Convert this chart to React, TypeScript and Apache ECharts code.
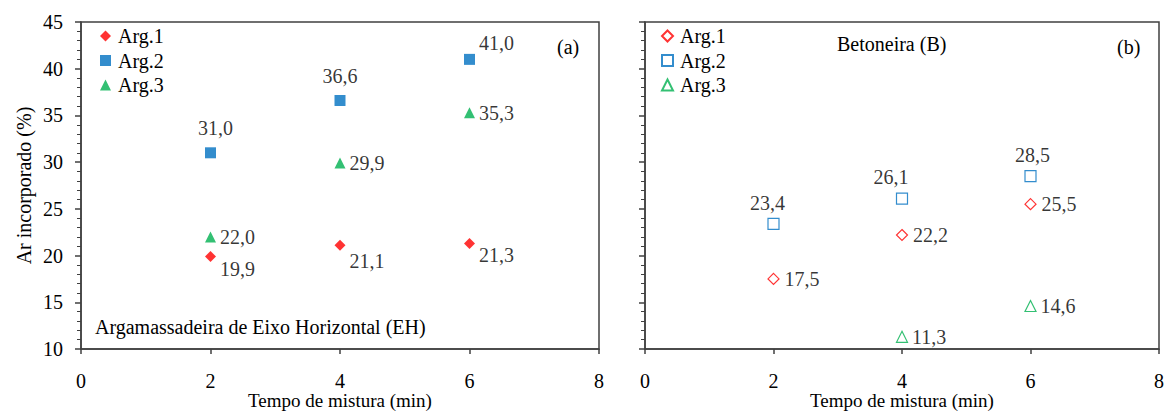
import React, { useEffect, useRef } from "react";
import * as echarts from "echarts";

// ---- data ----
const mixTimes = [2, 4, 6];
const ehArg1 = [19.9, 21.1, 21.3];
const ehArg2 = [31.0, 36.6, 41.0];
const ehArg3 = [22.0, 29.9, 35.3];
const bArg1 = [17.5, 22.2, 25.5];
const bArg2 = [23.4, 26.1, 28.5];
const bArg3: (number | null)[] = [null, 11.3, 14.6];
const mortarNames = ["Arg.1", "Arg.2", "Arg.3"];
const xAxisTitle = "Tempo de mistura (min)";
const yAxisTitle = "Ar incorporado (%)";
const panelATitle = "Argamassadeira de Eixo Horizontal (EH)";
const panelBTitle = "Betoneira (B)";

const FONT = "serif";
const AXIS_COLOR = "#404040";
const RED = "#FF0000";
const BLUE = "#0070C0";
const GREEN = "#00B050";

const fmt = (v: number) => v.toFixed(1).replace(".", ",");

function pts(vals: (number | null)[], labelFor: (i: number) => any) {
  const out: any[] = [];
  vals.forEach((v, i) => {
    if (v === null) return;
    out.push({ value: [mixTimes[i], v], label: labelFor(i) });
  });
  return out;
}

export default function App() {
  const ref = useRef<HTMLDivElement>(null);
  useEffect(() => {
    if (!ref.current) return;
    const chart = echarts.init(ref.current, null, { renderer: "svg" });

    const textStyle = { color: "#000", fontFamily: FONT, fontSize: 20 };
    const baseLabel = {
      show: true,
      color: "#000",
      fontFamily: FONT,
      fontSize: 20,
      formatter: (p: any) => fmt(p.value[1]),
    };

    const xAxisCommon = {
      type: "value",
      min: 0,
      max: 8,
      interval: 2,
      name: xAxisTitle,
      nameLocation: "middle",
      nameGap: 42,
      nameMoveOverlap: false,
      nameTextStyle: { ...textStyle, fontSize: 19 },
      axisLine: { show: true, lineStyle: { color: AXIS_COLOR, width: 1.5 } },
      axisTick: { show: true, length: 5, lineStyle: { color: AXIS_COLOR, width: 1.5 } },
      axisLabel: { margin: 22, ...textStyle },
      splitLine: { show: false },
    };
    const yAxisCommon = {
      type: "value",
      min: 10,
      max: 45,
      interval: 5,
      axisLine: { show: true, lineStyle: { color: AXIS_COLOR, width: 1.5 } },
      axisTick: { show: true, length: 6, lineStyle: { color: AXIS_COLOR, width: 1.5 } },
      minorTick: { show: true, splitNumber: 5, length: 4, lineStyle: { color: AXIS_COLOR, width: 1 } },
      splitLine: { show: false },
      minorSplitLine: { show: false },
    };

    const symbols = ["diamond", "rect", "triangle"];

    const series: any[] = [
      {
        name: mortarNames[0],
        type: "scatter",
        xAxisIndex: 0,
        yAxisIndex: 0,
        symbol: symbols[0],
        symbolSize: 11,
        itemStyle: { color: RED },
        data: pts(ehArg1, (i) => ({
          ...baseLabel,
          position: "right",
          distance: 4,
          offset: [0, i === 1 ? 16 : 12],
        })),
      },
      {
        name: mortarNames[1],
        type: "scatter",
        xAxisIndex: 0,
        yAxisIndex: 0,
        symbol: symbols[1],
        symbolSize: 11,
        itemStyle: { color: BLUE },
        data: pts(ehArg2, (i) =>
          i === 2
            ? { ...baseLabel, position: "right", distance: 4, offset: [0, -16] }
            : { ...baseLabel, position: "top", distance: 9, offset: [i === 0 ? 5 : 0, 0] }
        ),
      },
      {
        name: mortarNames[2],
        type: "scatter",
        xAxisIndex: 0,
        yAxisIndex: 0,
        symbol: symbols[2],
        symbolSize: 11,
        itemStyle: { color: GREEN },
        data: pts(ehArg3, () => ({ ...baseLabel, position: "right", distance: 4 })),
      },
      {
        name: mortarNames[0] + " B",
        type: "scatter",
        xAxisIndex: 1,
        yAxisIndex: 1,
        symbol: symbols[0],
        symbolSize: 11,
        itemStyle: { color: "#fff", borderColor: RED, borderWidth: 1.2 },
        data: pts(bArg1, () => ({ ...baseLabel, position: "right", distance: 5 })),
      },
      {
        name: mortarNames[1] + " B",
        type: "scatter",
        xAxisIndex: 1,
        yAxisIndex: 1,
        symbol: symbols[1],
        symbolSize: 11,
        itemStyle: { color: "#fff", borderColor: BLUE, borderWidth: 1.2 },
        data: pts(bArg2, (i) => ({
          ...baseLabel,
          position: "top",
          distance: 5,
          offset: [[-6, -11, 2][i], 0],
        })),
      },
      {
        name: mortarNames[2] + " B",
        type: "scatter",
        xAxisIndex: 1,
        yAxisIndex: 1,
        symbol: symbols[2],
        symbolSize: 11,
        itemStyle: { color: "#fff", borderColor: GREEN, borderWidth: 1.2 },
        data: pts(bArg3, () => ({ ...baseLabel, position: "right", distance: 4 })),
      },
    ];

    const legendCommon = {
      orient: "vertical",
      top: 21,
      itemWidth: 11,
      itemHeight: 11,
      itemGap: 4.5,
      selectedMode: false,
      textStyle: { ...textStyle, padding: [0, 0, 0, 2] },
      formatter: (n: string) => n.split(" ")[0],
    };

    const gridCommon = {
      top: 22,
      bottom: 63,
      show: true,
      borderColor: AXIS_COLOR,
      borderWidth: 1.5,
      outerBoundsMode: "none",
    };

    const option: any = {
      animation: false,
      backgroundColor: "#fff",
      textStyle: { fontFamily: FONT },
      grid: [
        { ...gridCommon, left: 81, right: 567 },
        { ...gridCommon, left: 645, right: 7 },
      ],
      xAxis: [
        { ...xAxisCommon, gridIndex: 0 },
        { ...xAxisCommon, gridIndex: 1 },
      ],
      yAxis: [
        {
          ...yAxisCommon,
          gridIndex: 0,
          name: yAxisTitle,
          nameLocation: "middle",
          nameGap: 47,
          nameMoveOverlap: false,
          nameTextStyle: textStyle,
          axisLabel: { margin: 18, ...textStyle },
        },
        { ...yAxisCommon, gridIndex: 1, axisLabel: { show: false } },
      ],
      legend: [
        { ...legendCommon, left: 95, data: mortarNames },
        { ...legendCommon, left: 656, data: mortarNames.map((n) => n + " B") },
      ],
      graphic: [
        { type: "text", left: 557, top: 37, style: { text: "(a)", fontFamily: FONT, fontSize: 20, fill: "#000" } },
        { type: "text", left: 95, top: 317, style: { text: panelATitle, fontFamily: FONT, fontSize: 20, fill: "#000" } },
        { type: "text", left: 837, top: 34, style: { text: panelBTitle, fontFamily: FONT, fontSize: 20, fill: "#000" } },
        { type: "text", left: 1117, top: 37, style: { text: "(b)", fontFamily: FONT, fontSize: 20, fill: "#000" } },
      ],
      series,
    };
    chart.setOption(option);
    return () => chart.dispose();
  }, []);

  return (
    <div>
      <div ref={ref} style={{ position: "fixed", left: 0, top: 0, width: 1166, height: 412 }} />
    </div>
  );
}
